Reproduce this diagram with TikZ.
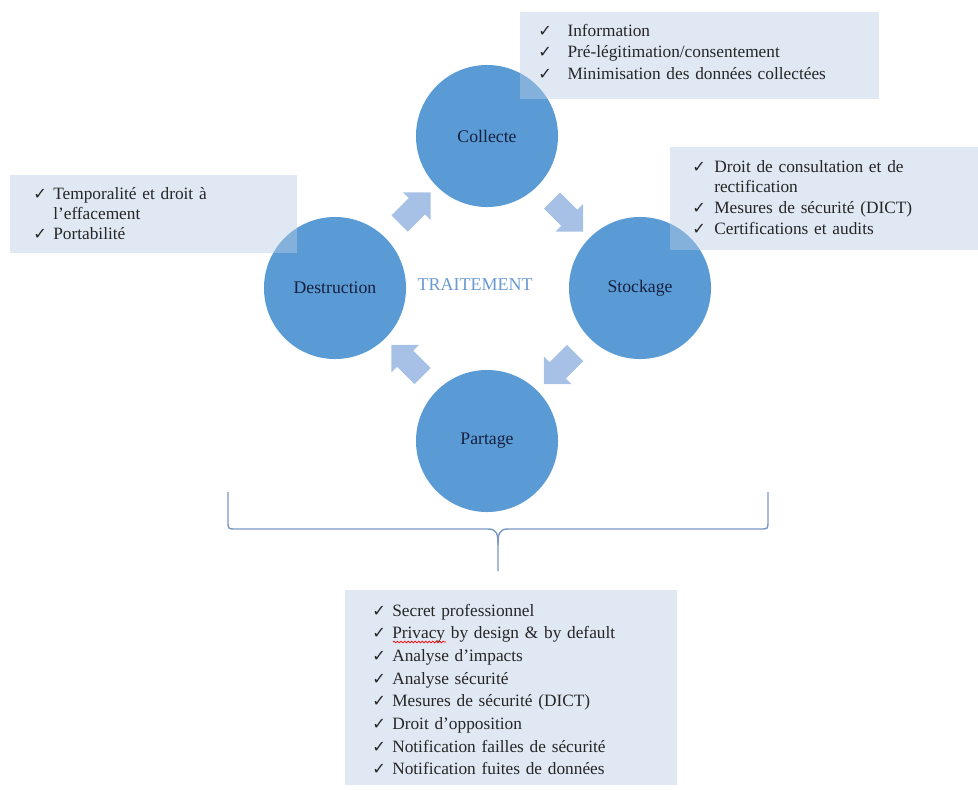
\documentclass[tikz,border=0pt]{standalone}
\usepackage{fontspec}
\setmainfont{Liberation Serif}
\newfontfamily\checkfont{DejaVu Sans}
\usetikzlibrary{positioning,shapes,arrows,calc,decorations.pathmorphing}

\definecolor{stageblue}{RGB}{91,155,213}
\definecolor{stagetext}{RGB}{22,32,64}
\definecolor{panelblue}{RGB}{184,204,228}
\definecolor{flowblue}{RGB}{166,193,229}
\definecolor{traitblue}{RGB}{106,152,208}
\definecolor{braceblue}{RGB}{122,152,196}

\newcommand{\chk}[1][0.5cm]{\makebox[#1][l]{\checkfont\fontsize{11.5}{11.5}\selectfont ✓}}

\begin{document}
\begin{tikzpicture}[
  x=0.025cm, y=-0.025cm,
  stage/.style={circle,fill=stageblue,minimum size=3.55cm,inner sep=0pt,
    text=stagetext,font=\fontsize{12.6}{14}\selectfont},
  panel/.style={anchor=north west,fill=panelblue,fill opacity=0.45,text opacity=1,
    inner ysep=0pt,align=left,text=black!85},
  flow/.style={single arrow,fill=flowblue,draw=none,inner sep=0pt,
    text width=0.3cm,text height=0.28cm,text depth=0.28cm,
    minimum height=1.1cm,single arrow head extend=0.2cm},
  brace line/.style={draw=braceblue,line width=1pt}
]
\useasboundingbox (0,0) rectangle (978,789);

% cycle
\node[stage] (collecte) at (487,136) {Collecte};
\node[stage] (stockage) at (640,288) {Stockage};
\node[stage] (partage) at (487,441) {Partage};
\node[stage] (destruction) at (335,288) {Destruction};
\node[text=traitblue,font=\fontsize{12.8}{14}\selectfont] (traitement) at (475,285) {TRAITEMENT};

\node[flow,rotate=45] (f1) at ($(destruction)!0.5!(collecte)$) {};
\node[flow,rotate=-45] (f2) at ($(collecte)!0.5!(stockage)$) {};
\node[flow,rotate=-135] (f3) at ($(stockage)!0.5!(partage)$) {};
\node[flow,rotate=135] (f4) at ($(partage)!0.5!(destruction)$) {};

% lists
\node[panel,inner xsep=0.45cm,text width=8.075cm,text height=0.6cm,text depth=1.575cm,
  font=\fontsize{12.3}{15.3}\selectfont] (collecte-list) at (520,12)
  {\chk[0.73cm]Information\\
   \chk[0.73cm]Pré-légitimation/consentement\\
   \chk[0.73cm]Minimisation des données collectées};

\node[panel,inner xsep=0.55cm,text width=6.6cm,text height=0.625cm,text depth=1.95cm,
  font=\fontsize{12.3}{14.7}\selectfont] (stockage-list) at (670,147)
  {\chk[0.55cm]Droit de consultation et de\\
   \hspace*{0.55cm}rectification\\
   \chk[0.55cm]Mesures de sécurité (DICT)\\
   \chk[0.55cm]Certifications et audits};

\node[panel,inner xsep=0.575cm,text width=6.025cm,text height=0.6cm,text depth=1.35cm,
  font=\fontsize{12.3}{14.2}\selectfont] (destruction-list) at (10,175)
  {\chk Temporalité et droit à\\
   \hspace*{0.5cm}l’effacement\\
   \chk Portabilité};

% brace
\coordinate (tip) at (498,571);
\draw[brace line] (228,492) -- (228,521) .. controls (228,529) .. (236,529) -- (488,529)
  .. controls (497,529) and (498,534) .. (498,545) -- (tip);
\draw[brace line] (768,492) -- (768,521) .. controls (768,529) .. (760,529) -- (508,529)
  .. controls (499,529) and (498,534) .. (498,545);

\node[panel,inner xsep=0.675cm,text width=6.95cm,text height=0.65cm,text depth=4.225cm,
  font=\fontsize{12.3}{16.1}\selectfont] (partage-list) at (345,590)
  {\chk Secret professionnel\\
   \chk Privacy by design \& by default\\
   \chk Analyse d’impacts\\
   \chk Analyse sécurité\\
   \chk Mesures de sécurité (DICT)\\
   \chk Droit d’opposition\\
   \chk Notification failles de sécurité\\
   \chk Notification fuites de données};

% spell-check mark
\coordinate (sp1) at (393,642);
\coordinate (sp2) at (446,642);
\draw[red,line width=0.5pt,decorate,decoration={snake,amplitude=0.6pt,segment length=2.5pt}] (sp1) -- (sp2);

\end{tikzpicture}
\end{document}
